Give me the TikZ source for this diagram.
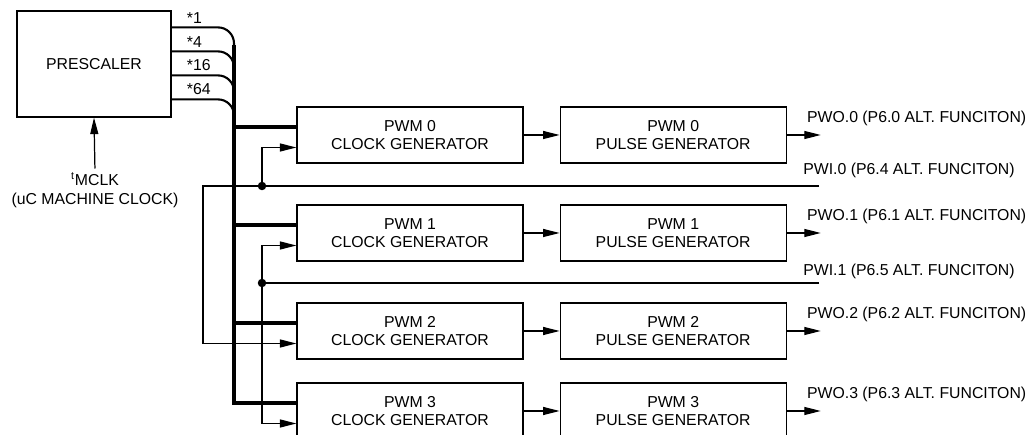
\documentclass[tikz,border=0pt]{standalone}
\usepackage{fontspec}
\setmainfont{Liberation Sans}
\usetikzlibrary{arrows.meta,calc,positioning}

\tikzset{
  blk/.style={draw,line width=0.7pt,minimum width=4.52cm,minimum height=1.12cm,align=center,inner sep=0pt},
  sig/.style={line width=0.7pt},
  arr/.style={sig,-{Triangle[length=0.33cm,width=0.16cm]}},
  bus/.style={line width=2.4pt},
  txt/.style={inner sep=0pt},
  dot/.style={circle,fill,inner sep=0pt,minimum size=0.17cm}
}

\begin{document}
\begin{tikzpicture}[x=0.02cm,y=-0.02cm,font=\fontsize{9}{10.5}\selectfont]
\useasboundingbox (0,0) rectangle (1029,435);

\node[blk,minimum width=3.08cm,minimum height=2.12cm] (presc) at (94,64) {PRESCALER};
\node[txt,align=center] (mclk) at (95,190) {\textsuperscript{t}MCLK\\(uC MACHINE CLOCK)};
\draw[arr,shorten <=2pt] (mclk.north) -- (presc.south);

% generators
\foreach \i/\y in {0/135,1/233,2/331,3/411}{
  \node[blk] (clk\i) at (410,\y) {PWM \i\\CLOCK GENERATOR};
  \node[blk,right=0.72cm of clk\i] (pls\i) {PWM \i\\PULSE GENERATOR};
  \coordinate (out\i) at ($(pls\i.east)+(34,0)$);
  \node[txt,anchor=west] (pwo\i) at ($(pls\i.east)+(20,-17)$) {PWO.\i\ (P6.\i\ ALT. FUNCITON)};
  \draw[arr] (clk\i) -- (pls\i);
  \draw[arr] (pls\i) -- (out\i);
  \coordinate (bin\i) at ($(clk\i.west)+(0,-8)$);
  \coordinate (cin\i) at ($(clk\i.west)+(0,12.5)$);
}

% prescaler taps into the bus
\coordinate (bustop) at (234,45);
\foreach \m [count=\i from 0] in {1,4,16,64}{
  \coordinate (tap\i) at ($(presc.north east)+(0,17+24*\i)$);
  \node[txt,anchor=south west] (mul\i) at ($(tap\i)+(15,-4)$) {*\m};
  \draw[sig,line width=1.2pt,rounded corners=0.32cm] (tap\i) -| ($(bustop)+(0,24*\i)$);
}
\draw[bus] (bustop) |- (bin3);
\foreach \i in {0,1,2}
  \draw[bus] (bustop |- bin\i) -- (bin\i);

% PWI inputs
\coordinate (pwi0) at (819,186);
\coordinate (pwi1) at (819,283);
\coordinate (back) at (203,186);
\node[txt,anchor=west] (pwil0) at (803,170) {PWI.0 (P6.4 ALT. FUNCITON)};
\node[txt,anchor=west] (pwil1) at (803,271) {PWI.1 (P6.5 ALT. FUNCITON)};
\node[dot] (j0) at (262,186) {};
\node[dot] (j1) at (262,283) {};

\draw[arr] (pwi0) -- (back) |- (cin2);
\draw[arr] (j0.center) |- (cin0);
\draw[sig] (pwi1) -- (j1.center);
\draw[arr] (j1.center) |- (cin1);
\draw[arr] (j1.center) |- (cin3);

\end{tikzpicture}
\end{document}
